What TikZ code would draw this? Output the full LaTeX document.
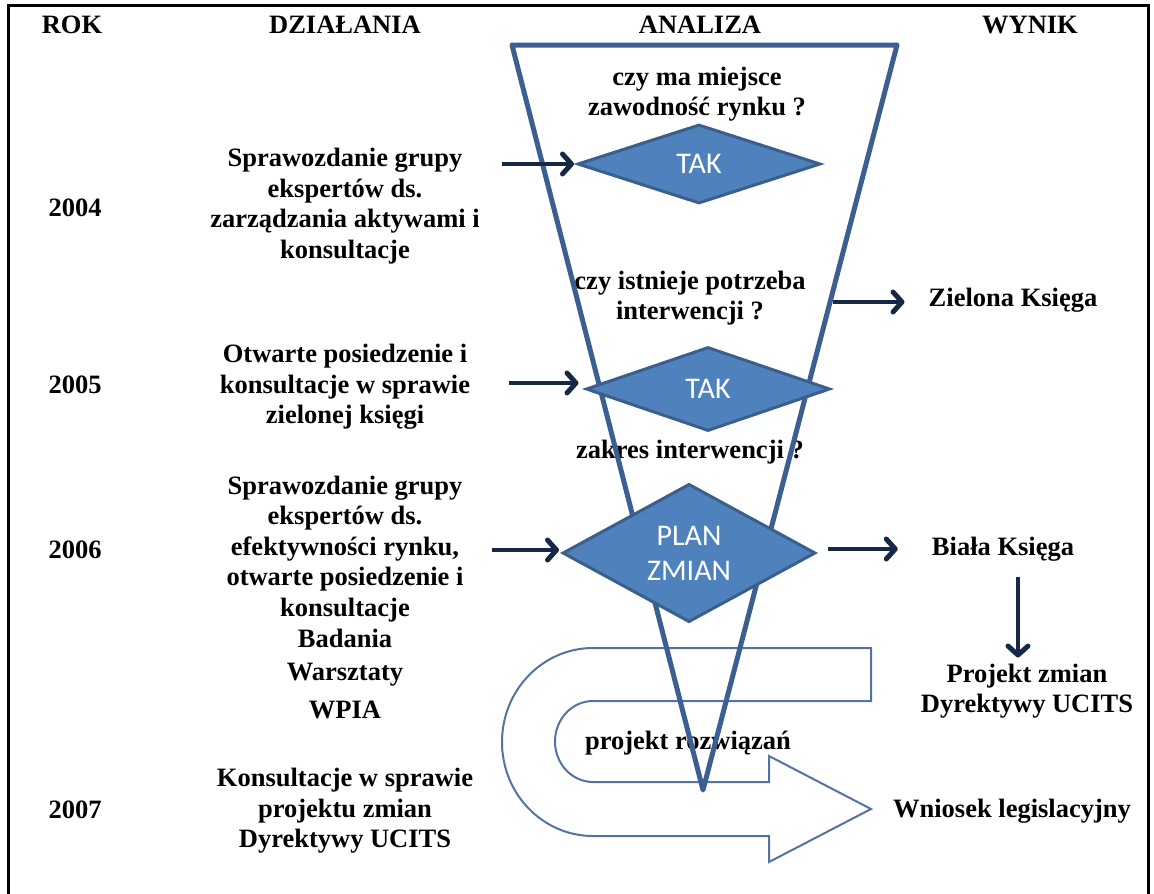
\documentclass[tikz,border=0pt]{standalone}
\usepackage{fontspec}
\setmainfont{Liberation Serif}
\newfontfamily\diafont{Carlito}
\usetikzlibrary{arrows.meta}
\usetikzlibrary{shapes.geometric}
\definecolor{funnelblue}{RGB}{60,95,145}
\definecolor{diafill}{RGB}{79,129,189}
\definecolor{diaedge}{RGB}{58,95,140}
\definecolor{uedge}{RGB}{85,115,162}
\definecolor{arrnavy}{RGB}{22,40,70}

\begin{document}
\begin{tikzpicture}[x=1pt, y=-1pt,
    txt/.style={font=\bfseries\fontsize{26.5}{30.5}\selectfont, align=center, inner sep=0pt},
    dia/.style={diamond, draw=diaedge, fill=diafill, line width=3pt, inner sep=0pt, text=white, align=center, font=\diafont\fontsize{30}{35}\selectfont},
    arr/.style={draw=arrnavy, line width=4pt, -{Straight Barb[length=9pt,width=20pt,line width=5pt,round]}},
    funnel/.style={draw=funnelblue, line width=5pt, line join=round, line cap=round},
    uarrow/.style={draw=uedge, line width=2pt, line join=miter}]

      \useasboundingbox (0,0) rectangle (1154,894);
      \draw[line width=3pt] (8,894) -- (8,5) -- (1148,5) -- (1148,894);

      \node[txt] (hrok) at (72,25) {ROK};
      \node[txt] (hdzial) at (345,25) {DZIAŁANIA};
      \node[txt] (hanal) at (700,25) {ANALIZA};
      \node[txt] (hwynik) at (1030,25) {WYNIK};

      \node[txt] (y2004) at (75,208) {2004};
      \node[txt] (y2005) at (75,385) {2005};
      \node[txt] (y2006) at (75,550) {2006};
      \node[txt] (y2007) at (75,810) {2007};

      \node[txt] (act2004) at (345,206) {Sprawozdanie grupy\\ekspertów ds.\\zarządzania aktywami i\\konsultacje};
      \node[txt] (act2005) at (345,387) {Otwarte posiedzenie i\\konsultacje w sprawie\\zielonej księgi};
      \node[txt] (act2006) at (345,549) {Sprawozdanie grupy\\ekspertów ds.\\efektywności rynku,\\otwarte posiedzenie i\\konsultacje};
      \node[txt] (badania) at (345,638) {Badania};
      \node[txt] (warsztaty) at (345,675) {Warsztaty};
      \node[txt] (wpia) at (345,710) {WPIA};
      \node[txt] (act2007) at (345,811) {Konsultacje w sprawie\\projektu zmian\\Dyrektywy UCITS};

      \node[txt] (q1) at (697,94) {czy ma miejsce\\zawodność rynku ?};
      \node[txt] (q2) at (690,298) {czy istnieje potrzeba\\interwencji ?};
      \node[txt] (q3) at (690,452) {zakres interwencji ?};

      \draw[uarrow] (593,648) -- (871,648) -- (871,701) -- (593,701)
        arc[start angle=270, end angle=90, x radius=38, y radius=40.5]
        -- (769,782) -- (769,756) -- (871,809) -- (769,862) -- (769,836) -- (593,836)
        arc[start angle=90, end angle=270, x radius=91, y radius=94] -- cycle;
      \node[txt] (proj) at (688,743) {projekt rozwiązań};

      \draw[funnel] (512,45) -- (897,45) -- (703,790) -- cycle;

      \node[dia, minimum width=243pt, minimum height=79pt] (d1) at (699,164) {TAK};
      \node[dia, minimum width=244pt, minimum height=84pt] (d2) at (708,389) {TAK};
      \node[dia, minimum width=253pt, minimum height=96pt] (d3) at (689,553) {PLAN\\ZMIAN};

      \node[txt] (zielona) at (1013,300) {Zielona Księga};
      \node[txt] (biala) at (1003,549) {Biała Księga};
      \node[txt] (projdyr) at (1027,691) {Projekt zmian\\Dyrektywy UCITS};
      \node[txt] (wniosek) at (1012,811) {Wniosek legislacyjny};

      \coordinate (s1) at (502,164);
      \coordinate (s2) at (509,383);
      \coordinate (s3) at (492,550);
      \coordinate (r2) at (833,302);
      \coordinate (r3) at (828,549);
      \coordinate (b1) at (1018,577);

      \draw[arr, shorten >=2pt] (s1) -- (d1.west);
      \draw[arr, shorten >=6pt] (s2) -- (s2 -| d2.west);
      \draw[arr, shorten >=2pt] (s3) -- (s3 -| d3.west);
      \draw[arr, shorten >=24pt] (r2) -- (r2 -| zielona.west);
      \draw[arr, shorten >=34pt] (r3) -- (r3 -| biala.west);
      \draw[arr, shorten >=6pt] (b1) -- (b1 |- projdyr.north);

    \end{tikzpicture}
\end{document}
